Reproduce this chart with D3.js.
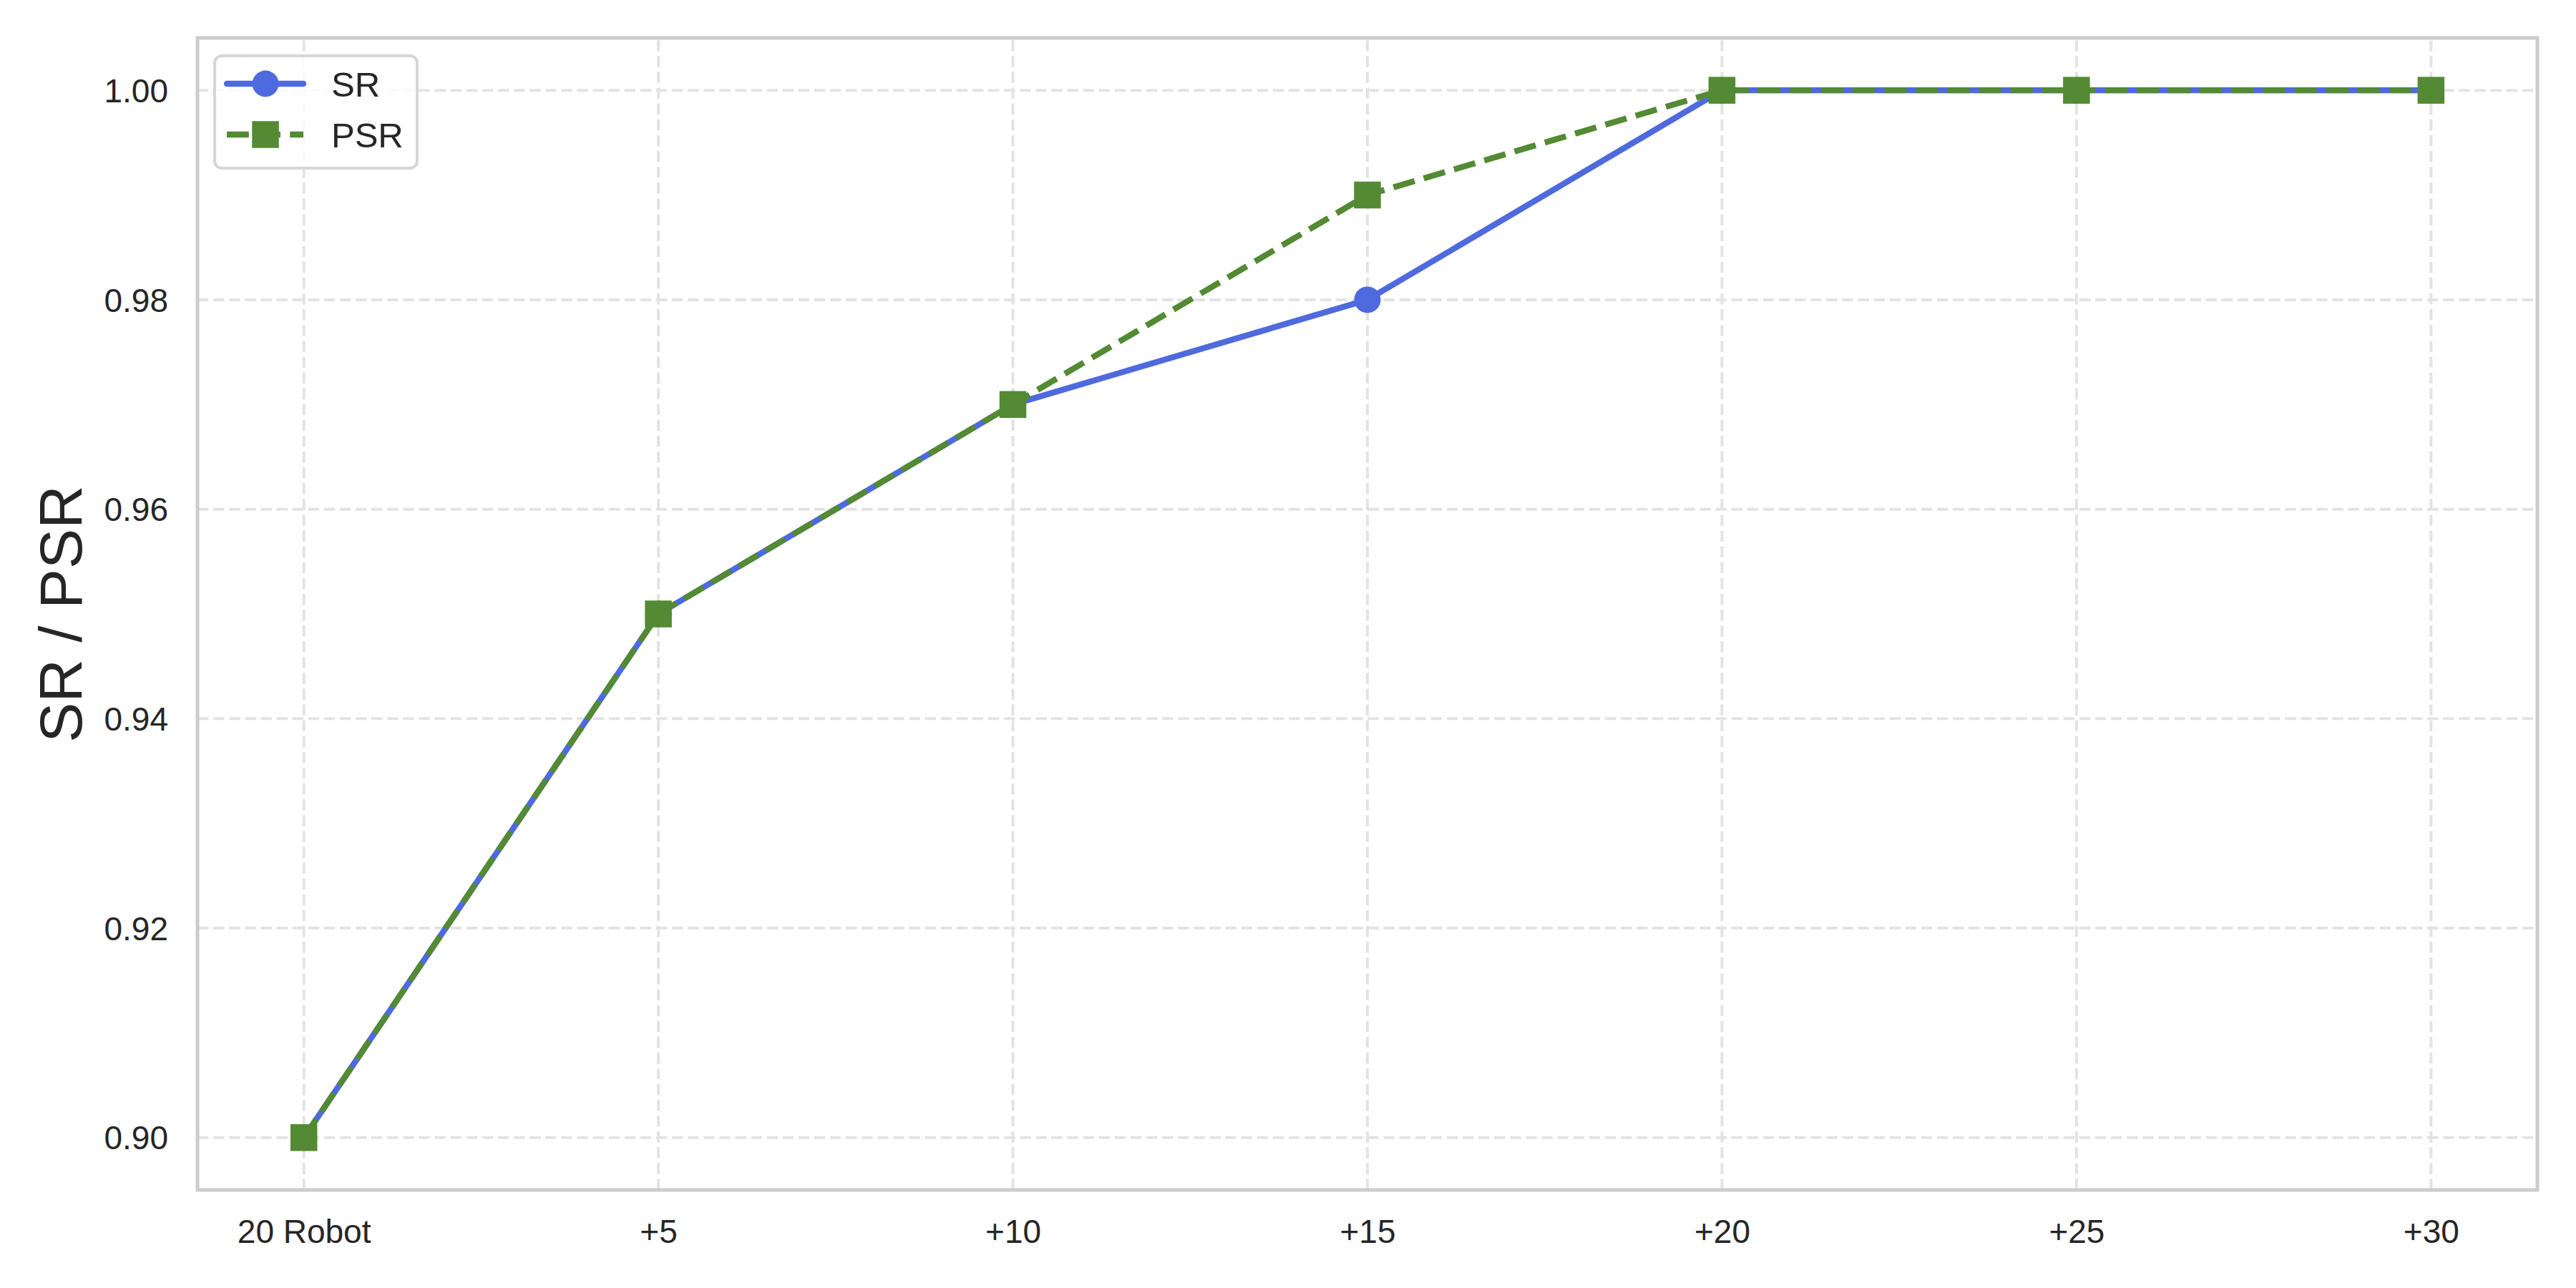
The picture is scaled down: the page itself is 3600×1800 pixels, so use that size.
<!DOCTYPE html>
<html>
<head>
<meta charset="utf-8">
<script src="https://cdn.jsdelivr.net/npm/d3@7"></script>
<style>
  html, body { margin: 0; padding: 0; background: #ffffff; }
  svg { display: block; }
  text { font-family: "Liberation Sans", Arial, sans-serif; fill: #262626; }
</style>
</head>
<body>
<script>
const categories = ["20 Robot", "+5", "+10", "+15", "+20", "+25", "+30"];
const srValues  = [0.90, 0.95, 0.97, 0.98, 1.00, 1.00, 1.00];
const psrValues = [0.90, 0.95, 0.97, 0.99, 1.00, 1.00, 1.00];
const yTicks = [0.90, 0.92, 0.94, 0.96, 0.98, 1.00];
const seriesNames = ["SR", "PSR"];

(function () {
const W = 3600, H = 1800;
const pL = 276, pR = 3546, pT = 53, pB = 1663;
const blue = "#4f6ade", green = "#538a33";

const svg = d3.select("body").append("svg").attr("width", W).attr("height", H);
svg.append("rect").attr("width", W).attr("height", H).attr("fill", "#fff");

const x = d3.scaleLinear().domain([-0.3, categories.length - 1 + 0.3]).range([pL, pR]);
const y = d3.scaleLinear().domain([0.895, 1.005]).range([pB, pT]);

// grid
const grid = svg.append("g");
grid.selectAll(".gy").data(yTicks).enter().append("line")
  .attr("x1", pL).attr("x2", pR)
  .attr("y1", d => y(d)).attr("y2", d => y(d))
  .attr("stroke", "#e3e3e3").attr("stroke-width", 4).attr("stroke-dasharray", "15.4,6.7");
grid.selectAll(".gx").data(categories).enter().append("line")
  .attr("x1", (d, i) => x(i)).attr("x2", (d, i) => x(i))
  .attr("y1", pB).attr("y2", pT)
  .attr("stroke", "#e3e3e3").attr("stroke-width", 4).attr("stroke-dasharray", "15.4,6.7");

// axes (labels only)
const xAxis = d3.axisBottom(x).tickValues(d3.range(categories.length)).tickFormat(i => categories[i]).tickSize(0).tickPadding(40);
const gx = svg.append("g").attr("transform", `translate(0,${pB})`).call(xAxis);
gx.select(".domain").remove();
gx.selectAll("text").attr("font-size", 46).attr("fill", "#262626").attr("dy", 0).attr("y", 74)
  .style("font-family", "'Liberation Sans', Arial, sans-serif");

const yAxis = d3.axisLeft(y).tickValues(yTicks).tickFormat(d3.format(".2f")).tickSize(0).tickPadding(41);
const gy = svg.append("g").attr("transform", `translate(${pL},0)`).call(yAxis);
gy.select(".domain").remove();
gy.selectAll("text").attr("font-size", 46).attr("fill", "#262626").attr("dy", "0.35em")
  .style("font-family", "'Liberation Sans', Arial, sans-serif");

// y label
svg.append("text")
  .attr("transform", `translate(114,${(pT + pB) / 2}) rotate(-90)`)
  .attr("text-anchor", "middle")
  .attr("font-size", 84)
  .text("SR / PSR");

// lines
const line = d3.line().x((d, i) => x(i)).y(d => y(d));
svg.append("path").datum(srValues).attr("d", line)
  .attr("fill", "none").attr("stroke", blue).attr("stroke-width", 8.3)
  .attr("stroke-linecap", "round").attr("stroke-linejoin", "round");
svg.selectAll(".srpt").data(srValues).enter().append("circle")
  .attr("cx", (d, i) => x(i)).attr("cy", d => y(d)).attr("r", 18.5).attr("fill", blue);

svg.append("path").datum(psrValues).attr("d", line)
  .attr("fill", "none").attr("stroke", green).attr("stroke-width", 8.3)
  .attr("stroke-dasharray", "30.8,13.3").attr("stroke-linejoin", "round");
const ms = 37.5;
svg.selectAll(".psrpt").data(psrValues).enter().append("rect")
  .attr("x", (d, i) => x(i) - ms / 2).attr("y", d => y(d) - ms / 2)
  .attr("width", ms).attr("height", ms).attr("fill", green);

// spines
svg.append("rect").attr("x", pL).attr("y", pT).attr("width", pR - pL).attr("height", pB - pT)
  .attr("fill", "none").attr("stroke", "#cccccc").attr("stroke-width", 5);

// legend
const lg = svg.append("g");
lg.append("rect").attr("x", 300).attr("y", 78).attr("width", 283).attr("height", 157)
  .attr("rx", 10).attr("fill", "#fff").attr("fill-opacity", 0.8)
  .attr("stroke", "#d6d6d6").attr("stroke-width", 4);
const items = [
  {name: seriesNames[0], color: blue, dash: null, marker: "circle", yy: 117},
  {name: seriesNames[1], color: green, dash: "30.8,13.3", marker: "square", yy: 188}
];
items.forEach(it => {
  const l = lg.append("line").attr("x1", 317).attr("x2", 424).attr("y1", it.yy).attr("y2", it.yy)
    .attr("stroke", it.color).attr("stroke-width", 8.3);
  if (it.dash) l.attr("stroke-dasharray", it.dash);
  else l.attr("stroke-linecap", "round");
  if (it.marker === "circle") {
    lg.append("circle").attr("cx", 371).attr("cy", it.yy).attr("r", 18.5).attr("fill", it.color);
  } else {
    lg.append("rect").attr("x", 371 - ms / 2).attr("y", it.yy - ms / 2).attr("width", ms).attr("height", ms).attr("fill", it.color);
  }
  lg.append("text").attr("x", 463).attr("y", it.yy).attr("dy", "0.36em").attr("font-size", 49).text(it.name);
});
})();
</script>
</body>
</html>
